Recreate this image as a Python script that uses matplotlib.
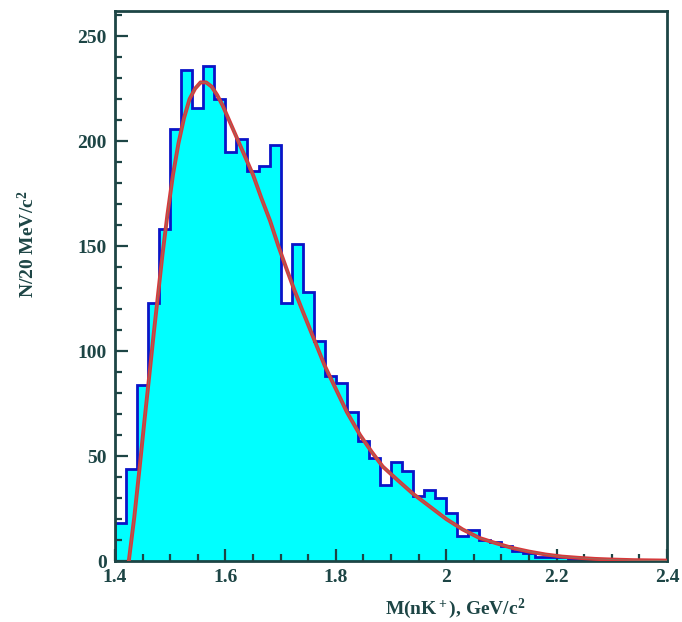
import matplotlib
matplotlib.use("Agg")
import matplotlib.pyplot as plt
import numpy as np
from matplotlib.ticker import MultipleLocator

plt.rcParams["mathtext.fontset"] = "custom"
plt.rcParams["mathtext.rm"] = "Liberation Serif:bold"
plt.rcParams["mathtext.bf"] = "Liberation Serif:bold"
plt.rcParams["mathtext.it"] = "Liberation Serif:bold"
plt.rcParams["mathtext.default"] = "rm"

# histogram: 20 MeV bins from 1.40 to 2.40 GeV
bin_edges = np.round(np.arange(1.40, 2.4001, 0.02), 3)
counts = [18, 44, 84, 123, 158, 206, 234, 216, 236, 220,
          195, 201, 186, 188, 198, 123, 151, 128, 105, 88,
          85, 71, 57, 49, 36, 47, 43, 31, 34, 30,
          23, 12, 15, 10, 9, 7, 5, 4, 2, 2,
          2, 1, 1, 1, 0, 1, 0, 0, 0, 0]

# fitted curve
fit_x = [1.425, 1.435, 1.444, 1.453, 1.462, 1.470, 1.478, 1.486, 1.495, 1.505,
         1.515, 1.525, 1.535, 1.545, 1.555, 1.565, 1.575, 1.585, 1.595, 1.605,
         1.620, 1.635, 1.650, 1.665, 1.681, 1.696, 1.711, 1.725, 1.740, 1.760,
         1.780, 1.800, 1.820, 1.844, 1.865, 1.885, 1.910, 1.940, 1.970, 2.000,
         2.030, 2.060, 2.090, 2.120, 2.150, 2.180, 2.210, 2.240, 2.270, 2.300,
         2.340, 2.400]
fit_y = [0, 21, 43, 66, 88, 108, 127, 146, 165, 184,
         199, 211, 220, 225, 228, 228, 226, 222, 217, 211,
         202, 193, 184, 173, 162, 150, 139, 129, 119, 106,
         93, 82, 71, 60, 52, 45, 39, 32, 26, 20,
         15, 11, 8.5, 6.2, 4.5, 3.1, 2.1, 1.5, 1.0, 0.7,
         0.4, 0.2]

ink = "#1d4545"
font = dict(family=["Liberation Serif", "DejaVu Serif"], weight="bold", color=ink)

fig = plt.figure(figsize=(6.82, 6.22), dpi=100)
ax = fig.add_axes([115 / 682, 61 / 622, 552 / 682, 550 / 622])

ax.stairs(counts, bin_edges, fill=True, color="#00ffff", zorder=1)
ax.stairs(counts, bin_edges, color="#0a14c8", linewidth=2, zorder=2)
ax.plot(fit_x, fit_y, color="#d8383a", linewidth=2.8, zorder=3)
ax.plot(fit_x, fit_y, color="#9a6a5c", linewidth=0.7, zorder=4)

ax.set_xlim(1.4, 2.4)
ax.set_ylim(0, 262)
ax.xaxis.set_major_locator(MultipleLocator(0.2))
ax.xaxis.set_minor_locator(MultipleLocator(0.05))
ax.yaxis.set_major_locator(MultipleLocator(50))
ax.yaxis.set_minor_locator(MultipleLocator(10))
ax.set_xticks([1.4, 1.6, 1.8, 2.0, 2.2, 2.4], ["1.4", "1.6", "1.8", "2", "2.2", "2.4"])

ax.tick_params(which="both", direction="in", top=False, right=False,
               color=ink, width=1.6)
ax.tick_params(which="major", length=9, labelsize=14, pad=6)
ax.tick_params(which="minor", length=5)
for lab in ax.get_xticklabels() + ax.get_yticklabels():
    lab.set_fontfamily(font["family"])
    lab.set_fontweight("bold")
    lab.set_color(ink)

for side in ax.spines.values():
    side.set_color(ink)
    side.set_linewidth(2)

ax.set_ylabel("N/20 MeV/c$^2$", fontsize=14, **font)
ax.yaxis.set_label_coords(-0.14, 0.575)
ax.set_xlabel("M(nK$^+$), GeV/c$^2$", fontsize=14, **font)
ax.xaxis.set_label_coords(0.616, -0.065)

fig.savefig("out.png", dpi=100)
